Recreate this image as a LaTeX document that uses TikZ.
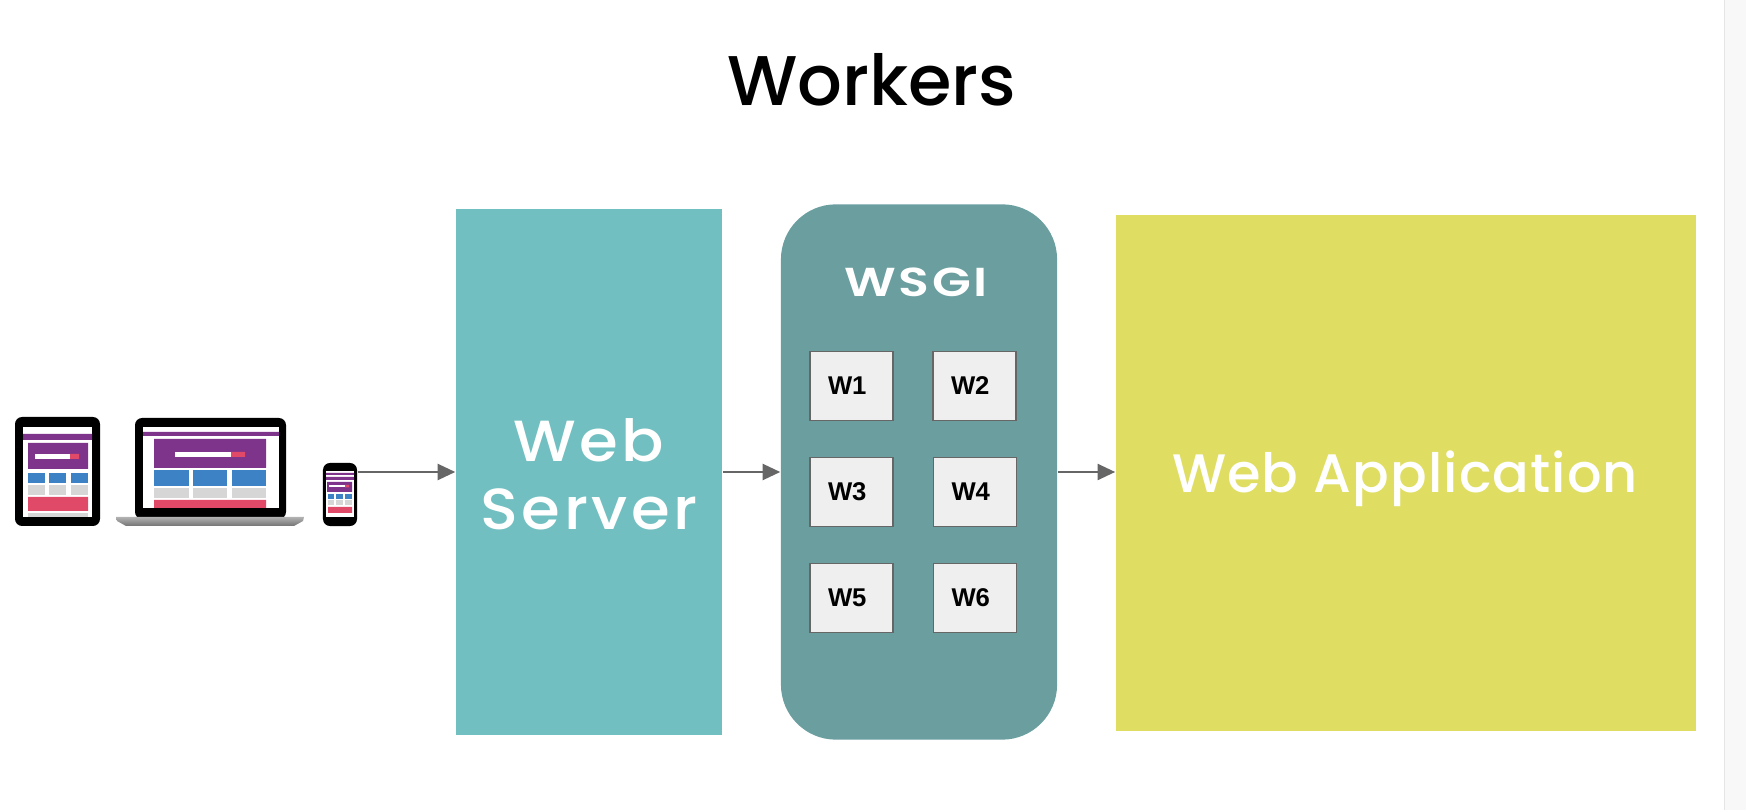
\documentclass[tikz,border=0pt]{standalone}
\usepackage{fontspec}
\setmainfont{Poppins Medium}
\newfontfamily\serverfont[LetterSpace=6,FakeStretch=1.08]{Poppins Medium}
\newfontfamily\appfont[LetterSpace=2]{Poppins Medium}
\newfontfamily\wsgifont[LetterSpace=6,FakeStretch=1.25]{Poppins SemiBold}
\newfontfamily\boxfont{Liberation Sans}
\usetikzlibrary{arrows.meta}
\definecolor{server_teal}{RGB}{114, 191, 193}
\definecolor{wsgi_teal}{RGB}{106, 158, 159}
\definecolor{app_yellow}{RGB}{224, 222, 98}
\definecolor{box_gray}{RGB}{239, 239, 239}
\definecolor{edge_gray}{RGB}{102, 102, 102}
\definecolor{site_purple}{RGB}{126, 52, 138}
\definecolor{site_blue}{RGB}{62, 130, 198}
\definecolor{site_red}{RGB}{224, 74, 104}
\definecolor{site_gray}{RGB}{214, 214, 214}
\definecolor{strip_gray}{RGB}{248, 248, 248}

\begin{document}
\begin{tikzpicture}[
        x=0.01cm, y=-0.01cm,
        panel/.style={minimum width=#1, inner sep=0pt, text=white, align=center},
        worker/.style={draw=edge_gray, fill=box_gray, line width=0.5pt, minimum height=0.69cm,
            text width=0.47cm, inner xsep=0.18cm, inner ysep=0pt, align=left,
            font=\boxfont\bfseries\fontsize{7.3}{9}\selectfont},
        flow/.style={draw=edge_gray, line width=0.5pt, -{Triangle[length=5pt,width=4.6pt]}, shorten >=0pt},
        device/.style={fill=black, rounded corners=2pt}
    ]
    \useasboundingbox (0,0) rectangle (1746,810);

    % right edge of the slide
    \fill[strip_gray] (1724,0) rectangle (1746,810);
    \draw[black!10, line width=0.3pt] (1724,0) -- (1724,810);

    \node (title) at (872,80) {\fontsize{20}{25}\selectfont Workers};

    % main blocks
    \node[panel=2.66cm, minimum height=5.26cm, fill=server_teal] (server) at (589,472) {};
    \node[text=white, inner sep=0pt, align=center, font=\serverfont\fontsize{16.5}{19.4}\selectfont] (serverlabel) at (589,474) {Web\\Server};
    \node[panel=2.76cm, minimum height=5.35cm, fill=wsgi_teal, rounded corners=0.55cm] (wsgi) at (919,472) {};
    \node[panel=5.80cm, minimum height=5.16cm, fill=app_yellow] (app) at (1406,473) {};
    \node[text=white, inner sep=0pt, font=\appfont\fontsize{15.4}{18}\selectfont] (applabel) at (1405,479) {Web Application};
    \node[text=white, inner sep=0pt, font=\wsgifont\fontsize{11.5}{13}\selectfont] (wsgilabel) at (916,282) {WSGI};

    % workers
    \node[worker] (w1) at (851.5,386) {W1};
    \node[worker] (w2) at (974.5,386) {W2};
    \node[worker] (w3) at (851.5,492) {W3};
    \node[worker] (w4) at (975,492) {W4};
    \node[worker] (w5) at (851.5,598) {W5};
    \node[worker] (w6) at (975,598) {W6};

    % tablet
    \fill[device] (15,417) rectangle (100,526);
    \fill[white] (23,427) rectangle (92,517);
    \fill[site_purple] (23,434) rectangle (92,440) (28,443) rectangle (88,469);
    \fill[white] (35,454) rectangle (70,459);
    \fill[site_red] (70,454) rectangle (79,459) (28,497) rectangle (88,511);
    \foreach \xa/\xb in {28/45, 49/66, 71/88} {
        \fill[site_blue] (\xa,473) rectangle (\xb,483);
        \fill[site_gray] (\xa,485) rectangle (\xb,495);
    }
    \fill[site_gray] (28,513) rectangle (88,517);

    % laptop
    \fill[device] (135,418) rectangle (286,519);
    \fill[white] (143,427) rectangle (279,508);
    \fill[site_purple] (143,432) rectangle (279,436) (154,439) rectangle (266,468);
    \fill[white] (175,452) rectangle (231,457);
    \fill[site_red] (231,452) rectangle (245,457) (154,500) rectangle (266,508);
    \foreach \xa/\xb in {154/189, 193/227, 232/266} {
        \fill[site_blue] (\xa,470) rectangle (\xb,486);
        \fill[site_gray] (\xa,488) rectangle (\xb,498);
    }
    \path[top color=black!30, bottom color=black!55] (116,517) -- (304,517) -- (303,521) -- (294,526) -- (126,526) -- (117,521) -- cycle;

    % phone
    \node[device, minimum width=0.34cm, minimum height=0.63cm, inner sep=0pt] (phone) at (340,494.5) {};
    \fill[white] (326,471) rectangle (354,517);
    \fill[site_purple] (326,473) rectangle (354,475) (326,477) rectangle (354,480) (327,482) rectangle (352,492);
    \fill[white] (329,485) rectangle (345,487.5);
    \fill[site_red] (345,485) rectangle (349,487.5) (328,507) rectangle (352,513);
    \foreach \xa/\xb in {328/334, 336/343, 345/352} {
        \fill[site_blue] (\xa,494) rectangle (\xb,499);
        \fill[site_gray] (\xa,500) rectangle (\xb,505);
    }

    % connectors
    \draw[flow] (phone.east |- server.west) -- (server.west);
    \draw[flow] (server.east) -- (wsgi.west);
    \draw[flow] (wsgi.east) -- (wsgi.east -| app.west);
\end{tikzpicture}
\end{document}
